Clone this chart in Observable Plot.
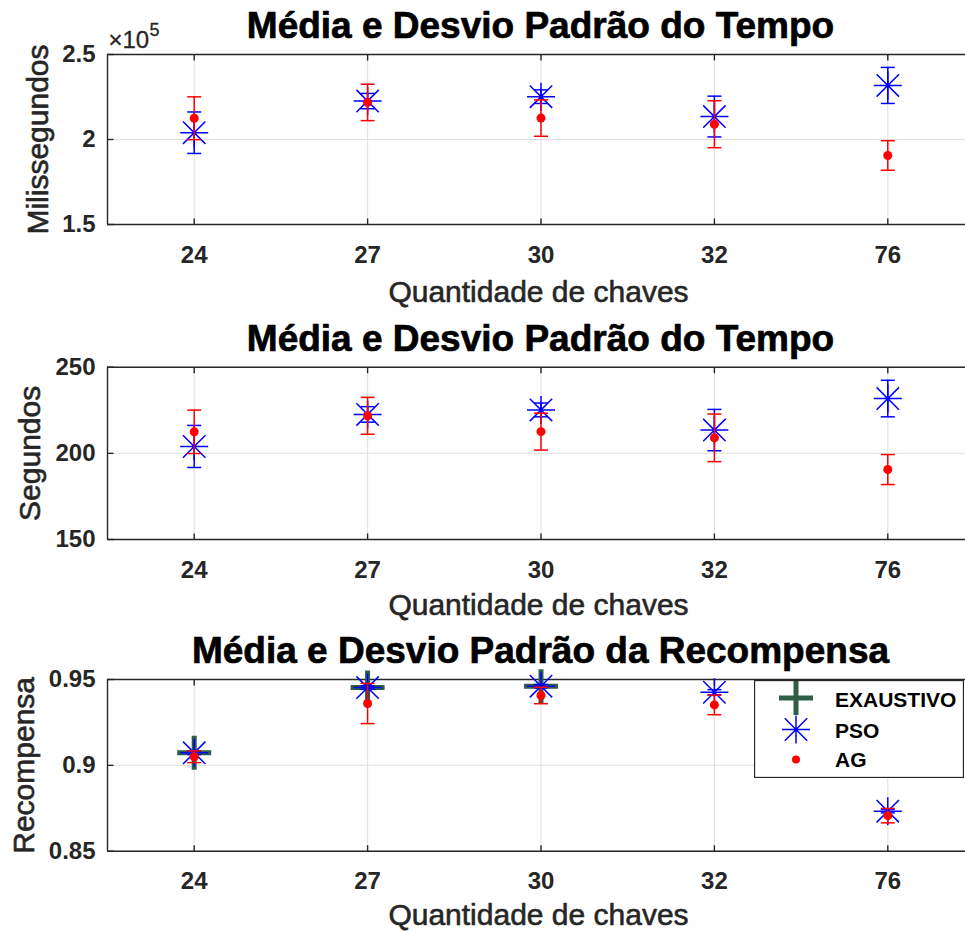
<!DOCTYPE html>
<html><head><meta charset="utf-8">
<script src="https://cdn.jsdelivr.net/npm/d3@7"></script>
<script src="https://cdn.jsdelivr.net/npm/@observablehq/plot@0.6"></script>
<style>
html,body{margin:0;padding:0;background:#fff;overflow:hidden}
#wrap{position:relative;width:965px;height:931px;overflow:hidden;background:#fff;font-family:"Liberation Sans",Arial,Helvetica,sans-serif}
.pan{position:absolute;left:0}
#legend{position:absolute;left:754px;top:680px}
</style></head><body><div id="wrap"></div>
<script>
// ---------- data ----------
const categories = ["24", "27", "30", "32", "76"];
const seriesNames = ["EXAUSTIVO", "PSO", "AG"];

// Tempo (milissegundos)
const psoTimeMs    = [204000, 222600, 225200, 213500, 231800];
const psoTimeMsStd = [12200, 4500, 4000, 12000, 10600];
const agTimeMs     = [212500, 221800, 212600, 209000, 190600];
const agTimeMsStd  = [12600, 10700, 10700, 13800, 8700];

// Tempo (segundos)
const psoTimeS    = [204.0, 222.6, 225.2, 213.5, 231.8];
const psoTimeSStd = [12.2, 4.5, 4.0, 12.0, 10.6];
const agTimeS     = [212.5, 221.8, 212.6, 209.0, 190.6];
const agTimeSStd  = [12.6, 10.7, 10.7, 13.8, 8.7];

// Recompensa
const exaustivoReward = [0.9073, 0.9453, 0.9461, null, null];
const psoReward       = [0.9073, 0.9453, 0.9461, 0.9426, 0.8733];
const psoRewardStd    = [0.001, 0.001, 0.001, 0.0015, 0.001];
const agReward        = [0.9050, 0.9360, 0.9407, 0.9352, 0.8707];
const agRewardStd     = [0.0034, 0.0117, 0.0048, 0.0057, 0.0042];

// tick values
const msTicks = [150000, 200000, 250000];
const sTicks = [150, 200, 250];
const rewardTicks = [0.85, 0.9, 0.95];

// ---------- styling ----------
const FONT = '"Liberation Sans", Arial, Helvetica, sans-serif';
const AX = "#262626";
const GRID = "#dfdfdf";
const BLUE = "#0000ff";
const RED = "#ff0000";
const GREEN = "#2e5e46";

const rad = (s) => Math.sqrt(s / Math.PI);
const starSym = {draw(c, s) { const r = rad(s), d = r * 0.8;
  c.moveTo(-r, 0); c.lineTo(r, 0); c.moveTo(0, -r); c.lineTo(0, r);
  c.moveTo(-d, -d); c.lineTo(d, d); c.moveTo(-d, d); c.lineTo(d, -d); }};
const plusSym = {draw(c, s) { const r = rad(s);
  c.moveTo(-r, 0); c.lineTo(r, 0); c.moveTo(0, -r); c.lineTo(0, r); }};
const capSym = {draw(c, s) { const r = rad(s); c.moveTo(-r, 0); c.lineTo(r, 0); }};
const tickUp = {draw(c, s) { const r = rad(s); c.moveTo(0, 0); c.lineTo(0, -r); }};
const tickDown = {draw(c, s) { const r = rad(s); c.moveTo(0, 0); c.lineTo(0, r); }};
const tickRight = {draw(c, s) { const r = rad(s); c.moveTo(0, 0); c.lineTo(r, 0); }};

function seriesMarks(mean, std, color, sym, r, sw, fill) {
  const rows = categories.map((c, i) => ({x: i + 1, m: mean[i], s: std ? std[i] : null}))
    .filter(d => d.m != null);
  const marks = [];
  if (std) {
    marks.push(Plot.ruleX(rows, {x: "x", y1: d => d.m - d.s, y2: d => d.m + d.s, stroke: color, strokeWidth: 1.5}));
    marks.push(Plot.dot(rows, {x: "x", y: d => d.m - d.s, symbol: capSym, r: 7, stroke: color, fill: "none", strokeWidth: 1.5}));
    marks.push(Plot.dot(rows, {x: "x", y: d => d.m + d.s, symbol: capSym, r: 7, stroke: color, fill: "none", strokeWidth: 1.5}));
  }
  if (fill) marks.push(Plot.dot(rows, {x: "x", y: "m", r, fill: color, stroke: "none"}));
  else marks.push(Plot.dot(rows, {x: "x", y: "m", symbol: sym, r, stroke: color, fill: "none", strokeWidth: sw}));
  return marks;
}

function panel(o) {
  const idx = categories.map((c, i) => i + 1);
  const marks = [
    Plot.ruleX(idx, {x: d => d, stroke: GRID, strokeWidth: 1}),
    Plot.ruleY(o.yTicks, {y: d => d, stroke: GRID, strokeWidth: 1}),
    Plot.ruleY(o.yDomain, {y: d => d, stroke: AX, strokeWidth: 1.4}),
    Plot.ruleX([0.5], {x: d => d, stroke: AX, strokeWidth: 1.4}),
    Plot.dot(idx, {x: d => d, frameAnchor: "bottom", symbol: tickUp, r: 6, stroke: AX, fill: "none", strokeWidth: 1.4}),
    Plot.dot(idx, {x: d => d, frameAnchor: "top", symbol: tickDown, r: 6, stroke: AX, fill: "none", strokeWidth: 1.4}),
    Plot.dot(o.yTicks, {y: d => d, frameAnchor: "left", symbol: tickRight, r: 6, stroke: AX, fill: "none", strokeWidth: 1.4}),
    Plot.axisX(idx, {tickSize: 0, tickPadding: 21, tickFormat: i => categories[i - 1], fontSize: 24, fontWeight: "bold", color: AX, label: null}),
    Plot.axisY(o.yTicks, {tickSize: 0, tickPadding: 12, tickFormat: o.yFormat, fontSize: 24, fontWeight: "bold", color: AX, label: null}),
    Plot.text([o.title], {text: d => d, frameAnchor: "top", dx: 4, dy: -28, fontSize: 37, fontWeight: "bold", fill: "#000", stroke: "#000", strokeWidth: 0.7, lineAnchor: "middle"}),
    Plot.text(["Quantidade de chaves"], {text: d => d, frameAnchor: "bottom", dx: 2, dy: o.xlabelDy, fontSize: 30, fill: AX, stroke: AX, strokeWidth: 0.6, lineAnchor: "middle"}),
    Plot.text([o.ylabel], {text: d => d, frameAnchor: "left", dx: o.ylabelDx, rotate: -90, fontSize: 30, fill: AX, stroke: AX, strokeWidth: 0.6, lineAnchor: "middle", textAnchor: "middle"}),
    ...(o.extra || []),
    ...(o.ex ? seriesMarks(o.ex, null, GREEN, plusSym, 17, 5, false) : []),
    ...seriesMarks(o.pso, o.psoStd, BLUE, starSym, 14, 1.5, false),
    ...seriesMarks(o.ag, o.agStd, RED, null, 4.5, 0, true)
  ];
  const svg = Plot.plot({
    width: 965, height: o.height,
    marginLeft: 107, marginRight: 0, marginTop: o.marginTop, marginBottom: o.marginBottom,
    x: {type: "linear", domain: [0.5, 5.5], range: [107, 974]},
    y: {type: "linear", domain: o.yDomain},
    style: {fontFamily: FONT, background: "transparent", overflow: "visible"},
    marks
  });
  const div = document.createElement("div");
  div.className = "pan";
  div.style.top = o.top + "px";
  div.appendChild(svg);
  document.getElementById("wrap").appendChild(div);
}

panel({
  top: 0, height: 310, marginTop: 54, marginBottom: 86,
  yDomain: [150000, 250000], yTicks: msTicks, yFormat: d => String(d / 100000),
  title: "Média e Desvio Padrão do Tempo", ylabel: "Milissegundos", ylabelDx: -69, xlabelDy: 68,
  pso: psoTimeMs, psoStd: psoTimeMsStd, ag: agTimeMs, agStd: agTimeMsStd,
  extra: [
    Plot.text(["×10"], {text: d => d, frameAnchor: "top-left", dx: 1, dy: -14, fontSize: 24, fill: AX, stroke: AX, strokeWidth: 0.3, textAnchor: "start", lineAnchor: "middle"}),
    Plot.text(["5"], {text: d => d, frameAnchor: "top-left", dx: 42, dy: -24, fontSize: 18, fill: AX, stroke: AX, strokeWidth: 0.3, textAnchor: "start", lineAnchor: "middle"})
  ]
});
panel({
  top: 310, height: 312, marginTop: 56.7, marginBottom: 83,
  yDomain: [150, 250], yTicks: sTicks, yFormat: d => String(d),
  title: "Média e Desvio Padrão do Tempo", ylabel: "Segundos", ylabelDx: -77, xlabelDy: 66,
  pso: psoTimeS, psoStd: psoTimeSStd, ag: agTimeS, agStd: agTimeSStd
});
panel({
  top: 622, height: 309, marginTop: 57, marginBottom: 80.3,
  yDomain: [0.85, 0.95], yTicks: rewardTicks, yFormat: d => String(d),
  title: "Média e Desvio Padrão da Recompensa", ylabel: "Recompensa", ylabelDx: -83, xlabelDy: 64,
  ex: exaustivoReward, pso: psoReward, psoStd: psoRewardStd, ag: agReward, agStd: agRewardStd
});

// ---------- legend ----------
const ns = "http://www.w3.org/2000/svg";
const lg = document.createElementNS(ns, "svg");
lg.setAttribute("id", "legend");
lg.setAttribute("width", 210); lg.setAttribute("height", 98);
function el(tag, attrs, parent) { const e = document.createElementNS(ns, tag); for (const k in attrs) e.setAttribute(k, attrs[k]); (parent || lg).appendChild(e); return e; }
el("rect", {x: 0.5, y: 0.5, width: 209, height: 97, fill: "#fff", stroke: AX, "stroke-width": 1.3});
el("path", {d: "M25,18H59M42,1V35", stroke: GREEN, "stroke-width": 5, fill: "none"});
const r = 14, d = 11.2, cy = 49.5;
el("path", {d: `M${42 - r},${cy}H${42 + r}M42,${cy - r}V${cy + r}M${42 - d},${cy - d}L${42 + d},${cy + d}M${42 - d},${cy + d}L${42 + d},${cy - d}`, stroke: BLUE, "stroke-width": 1.5, fill: "none"});
el("circle", {cx: 42, cy: 79.5, r: 4, fill: RED});
const ys = [19, 50, 79.5];
seriesNames.forEach((n, i) => {
  const t = el("text", {x: 81, y: ys[i] + 7.5, "font-size": 21, "font-weight": "bold", fill: "#000", "font-family": FONT});
  t.textContent = n;
});
document.getElementById("wrap").appendChild(lg);
</script></body></html>
